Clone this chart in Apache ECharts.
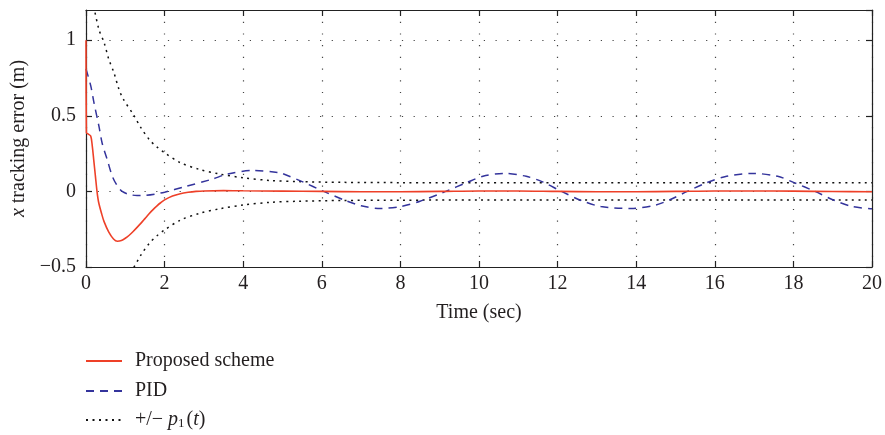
<!DOCTYPE html>
<html>
<head>
<meta charset="utf-8">
<script src="https://cdn.jsdelivr.net/npm/echarts@6/dist/echarts.min.js"></script>
<style>
html,body{margin:0;padding:0;background:#fff;}
#chart{width:885px;height:435px;}
</style>
</head>
<body>
<div id="chart"></div>
<script>
// ---- data ----
var xTicks = [0, 2, 4, 6, 8, 10, 12, 14, 16, 18, 20];
var yTicks = [-0.5, 0, 0.5, 1];

var tProposed = [0, 0.01, 0.05, 0.12, 0.16, 0.2, 0.24, 0.28, 0.32, 0.4, 0.46, 0.58, 0.7, 0.8, 0.9, 1.0, 1.1, 1.2, 1.3, 1.4, 1.5, 1.6, 1.7, 1.8, 1.9, 2.0, 2.2, 2.4, 2.6, 2.8, 3.0, 3.5, 4, 5, 6, 7, 8, 9, 10, 11, 12, 13, 14, 15, 16, 17, 18, 19, 20];
var vProposed = [1.0, 0.39, 0.38, 0.366, 0.30, 0.20, 0.10, 0.0, -0.07, -0.15, -0.2, -0.27, -0.315, -0.33, -0.325, -0.31, -0.29, -0.265, -0.238, -0.21, -0.18, -0.15, -0.122, -0.097, -0.075, -0.056, -0.03, -0.015, -0.006, 0.0, 0.003, 0.005, 0.004, 0.002, 0.0, -0.002, -0.002, 0.0, 0.003, 0.003, 0.0, -0.002, -0.002, 0.0, 0.003, 0.003, 0.002, -0.001, -0.002];

var tPID = [0, 0.12, 0.2, 0.33, 0.41, 0.54, 0.67, 0.8, 0.92, 1.1, 1.3, 1.5, 1.75, 2.0, 2.5, 3.2, 3.6, 4.25, 4.9, 5.0, 5.5, 6.05, 6.6, 7.0, 7.5, 8.0, 8.5, 9.15, 9.7, 10.1, 10.63, 11.2, 11.6, 12.1, 12.6, 13.1, 13.86, 14.5, 14.9, 15.3, 15.8, 16.3, 16.98, 17.6, 18.0, 18.55, 19.0, 19.5, 20];
var vPID = [0.81, 0.70, 0.59, 0.43, 0.32, 0.21, 0.10, 0.035, 0.0, -0.02, -0.027, -0.026, -0.018, -0.005, 0.03, 0.08, 0.115, 0.139, 0.125, 0.118, 0.065, 0.0, -0.06, -0.095, -0.113, -0.1, -0.065, 0.0, 0.06, 0.1, 0.119, 0.1, 0.065, 0.0, -0.06, -0.1, -0.113, -0.09, -0.05, 0.0, 0.058, 0.1, 0.119, 0.1, 0.06, 0.0, -0.055, -0.1, -0.115];

var tBound = [0.1, 0.2, 0.33, 0.46, 0.58, 0.71, 0.84, 0.95, 1.2, 1.4, 1.62, 1.8, 2.0, 2.4, 2.89, 3.4, 4, 4.7, 5.4, 6.5, 8, 10, 12, 14, 16, 18, 20];
var vBound = [1.35, 1.22, 1.07, 0.985, 0.874, 0.786, 0.675, 0.61, 0.51, 0.42, 0.34, 0.295, 0.255, 0.19, 0.145, 0.115, 0.09, 0.072, 0.065, 0.06, 0.058, 0.057, 0.057, 0.057, 0.057, 0.057, 0.057];

var names = ['Proposed scheme', 'PID', '+/\u2212 p1(t)'];

function pairs(t, v, sign) {
  return t.map(function (x, i) { return [x, (sign || 1) * v[i]]; });
}

var FONT = '"Liberation Serif", "DejaVu Serif", serif';
var TXT = '#231f20';

var chart = echarts.init(document.getElementById('chart'), null, {renderer: 'canvas'});

function baseX(extra) {
  return Object.assign({
    type: 'value', min: xTicks[0], max: xTicks[xTicks.length - 1], interval: 2,
    axisLine: {show: true, onZero: false, lineStyle: {color: '#222', width: 1.2}},
    axisTick: {show: true, inside: true, length: 6, lineStyle: {color: '#222', width: 1.2}},
    splitLine: {show: false}
  }, extra);
}
function baseY(extra) {
  return Object.assign({
    type: 'value', min: yTicks[0], max: 1.2, interval: 0.5,
    axisLine: {show: true, onZero: false, lineStyle: {color: '#222', width: 1.2}},
    axisTick: {show: true, inside: true, length: 6, lineStyle: {color: '#222', width: 1.2}},
    splitLine: {show: false}
  }, extra);
}

var legendRich = {
  i: {fontStyle: 'italic', fontFamily: FONT, fontSize: 20, color: TXT},
  s: {fontFamily: FONT, fontSize: 13, color: TXT, verticalAlign: 'bottom', padding: [8, 2, 0, 0]},
  n: {fontFamily: FONT, fontSize: 20, color: TXT}
};
function legendAt(name, top) {
  return {
    data: [name], orient: 'vertical', left: 85, top: top, padding: 0,
    itemWidth: 36, itemHeight: 14, selectedMode: false,
    itemStyle: {color: 'transparent', borderColor: 'transparent', borderWidth: 0, opacity: 0},
    textStyle: {fontFamily: FONT, fontSize: 20, color: TXT, padding: [0, 0, 0, 8], rich: legendRich},
    formatter: function (n) {
      if (n === names[2]) return '{n|+/\u2212 }{i|p}{s|1}{n|(}{i|t}{n|)}';
      return n;
    }
  };
}

var option = {
  animation: false,
  backgroundColor: '#fff',
  grid: {left: 86, right: 11, top: 10, bottom: 168, containLabel: false},
  legend: [legendAt(names[0], 351), legendAt(names[1], 381), legendAt(names[2], 410)],
  xAxis: [
    baseX({
      position: 'bottom',
      axisLabel: {show: true, margin: 7, fontFamily: FONT, fontSize: 20, color: TXT},
      splitLine: {show: true, lineStyle: {color: '#444', width: 1.2, type: [1.2, 10.5]}},
      name: 'Time (sec)', nameLocation: 'middle', nameGap: 36,
      nameTextStyle: {fontFamily: FONT, fontSize: 20, color: TXT}
    }),
    baseX({position: 'top', axisLabel: {show: false}})
  ],
  yAxis: [
    baseY({
      position: 'left',
      axisLabel: {show: true, margin: 10, fontFamily: FONT, fontSize: 20, color: TXT, showMaxLabel: false,
        formatter: function (v) { return String(v).replace('-', '\u2212'); }},
      splitLine: {show: true, lineStyle: {color: '#444', width: 1.2, type: [1.2, 10.5]}},
      name: '{i|x} tracking error (m)', nameLocation: 'middle', nameGap: 57,
      nameTextStyle: {fontFamily: FONT, fontSize: 20, color: TXT,
        rich: {i: {fontStyle: 'italic', fontFamily: FONT, fontSize: 20, color: TXT}}}
    }),
    baseY({position: 'right', axisLabel: {show: false}})
  ],
  series: [
    {
      name: names[2], type: 'line', data: pairs(tBound, vBound, 1), smooth: 0.3,
      showSymbol: false, symbol: 'none', clip: true, z: 2,
      lineStyle: {color: '#111', width: 1.5, type: [2, 4.5]}, itemStyle: {color: '#111'}
    },
    {
      name: names[2], type: 'line', data: pairs(tBound, vBound, -1), smooth: 0.3,
      showSymbol: false, symbol: 'none', clip: true, z: 2,
      lineStyle: {color: '#111', width: 1.5, type: [2, 4.5]}, itemStyle: {color: '#111'}
    },
    {
      name: names[1], type: 'line', data: pairs(tPID, vPID), smooth: 0.3,
      showSymbol: false, symbol: 'none', clip: true, z: 3,
      lineStyle: {color: '#34349c', width: 1.5, type: [8, 6]}, itemStyle: {color: '#34349c'}
    },
    {
      name: names[0], type: 'line', data: pairs(tProposed, vProposed), smooth: 0.3,
      showSymbol: false, symbol: 'none', clip: true, z: 4,
      lineStyle: {color: '#ee4028', width: 1.6}, itemStyle: {color: '#ee4028'}
    }
  ]
};
chart.setOption(option);
</script>
</body>
</html>
